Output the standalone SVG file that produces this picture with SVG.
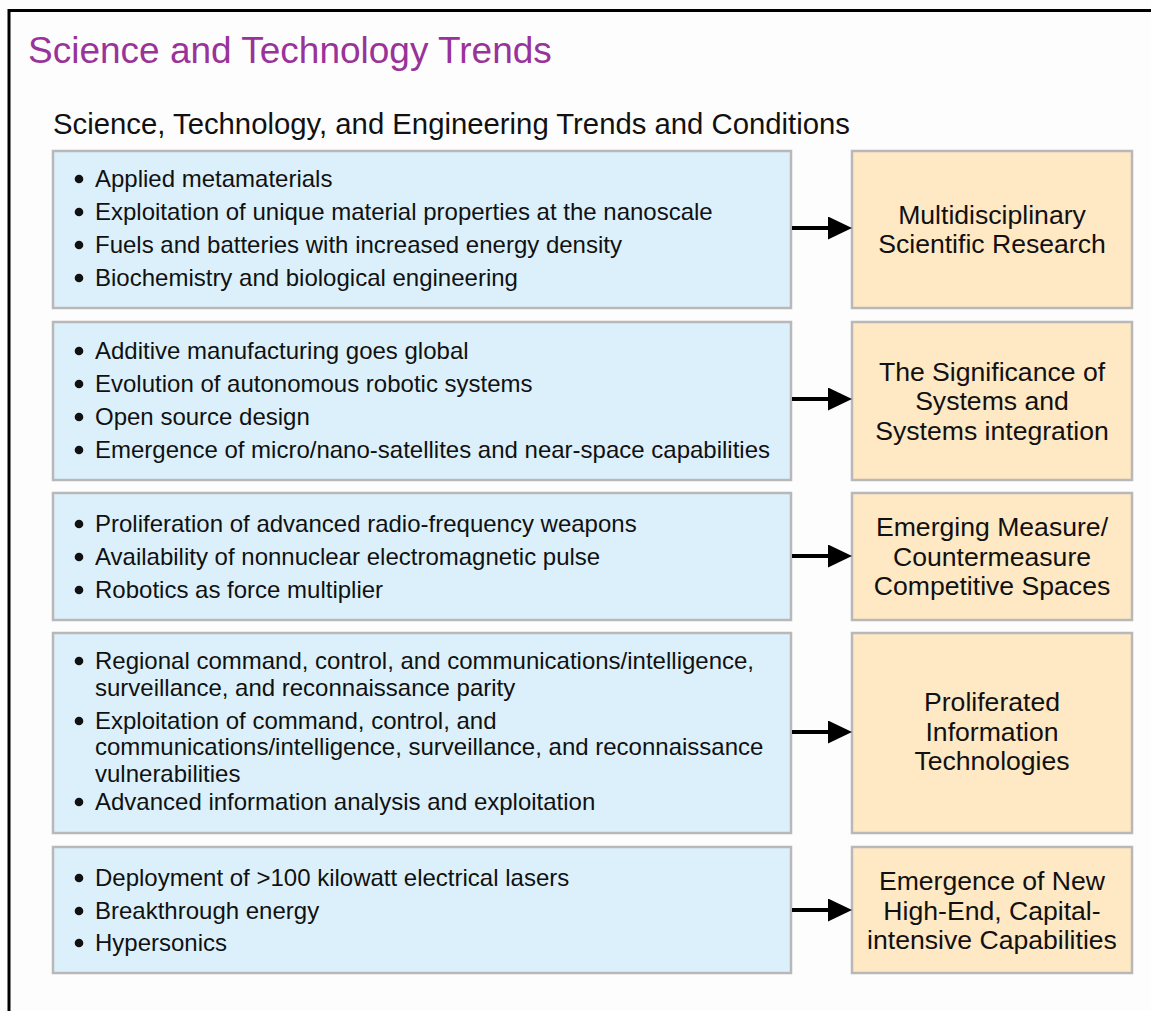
<svg xmlns="http://www.w3.org/2000/svg" width="1151" height="1011" viewBox="0 0 1151 1011">
<defs>
<style>
.t{font-family:"Liberation Sans",Arial,sans-serif;fill:#111}
.b{font-size:24px}
.c{font-size:26.6px;text-anchor:middle}
.blue{fill:#dcf0fb;stroke:#b8b8b8;stroke-width:2.5}
.org{fill:#ffe8c4;stroke:#b8b8b8;stroke-width:2.5}
.dot{fill:#111}
.con{stroke:#000;stroke-width:4;fill:none}
</style>
<marker id="ah" markerUnits="userSpaceOnUse" markerWidth="24" markerHeight="23" refX="2" refY="11.5" orient="auto">
<path d="M0,0 L24,11.5 L0,23 Z" fill="#000"/>
</marker>
</defs>
<rect x="0" y="0" width="1151" height="1011" fill="#fdfdfd"/>
<rect x="9" y="10.5" width="1300" height="1200" fill="none" stroke="#000" stroke-width="3"/>
<text class="t" x="28" y="63" style="font-size:37px;fill:#993399">Science and Technology Trends</text>
<text class="t" x="53" y="134" style="font-size:29.3px">Science, Technology, and Engineering Trends and Conditions</text>

<g id="trend1">
<rect class="blue" x="53" y="151" width="738" height="157"/>
<circle class="dot" cx="79" cy="179" r="4.3"/><text class="t b" x="95" y="187">Applied metamaterials</text>
<circle class="dot" cx="79" cy="212" r="4.3"/><text class="t b" x="95" y="220">Exploitation of unique material properties at the nanoscale</text>
<circle class="dot" cx="79" cy="245" r="4.3"/><text class="t b" x="95" y="253">Fuels and batteries with increased energy density</text>
<circle class="dot" cx="79" cy="278" r="4.3"/><text class="t b" x="95" y="286">Biochemistry and biological engineering</text>
</g>
<g id="out1">
<rect class="org" x="852" y="151" width="280" height="157"/>
<text class="t c" x="992" y="224">Multidisciplinary</text>
<text class="t c" x="992" y="252.5">Scientific Research</text>
</g>

<g id="trend2">
<rect class="blue" x="53" y="322" width="738" height="158"/>
<circle class="dot" cx="79" cy="351" r="4.3"/><text class="t b" x="95" y="359">Additive manufacturing goes global</text>
<circle class="dot" cx="79" cy="384" r="4.3"/><text class="t b" x="95" y="392">Evolution of autonomous robotic systems</text>
<circle class="dot" cx="79" cy="417" r="4.3"/><text class="t b" x="95" y="425">Open source design</text>
<circle class="dot" cx="79" cy="450" r="4.3"/><text class="t b" x="95" y="458">Emergence of micro/nano-satellites and near-space capabilities</text>
</g>
<g id="out2">
<rect class="org" x="852" y="322" width="280" height="158"/>
<text class="t c" x="992" y="380.5">The Significance of</text>
<text class="t c" x="992" y="410">Systems and</text>
<text class="t c" x="992" y="439.5">Systems integration</text>
</g>

<g id="trend3">
<rect class="blue" x="53" y="493" width="738" height="127"/>
<circle class="dot" cx="79" cy="524" r="4.3"/><text class="t b" x="95" y="532">Proliferation of advanced radio-frequency weapons</text>
<circle class="dot" cx="79" cy="557" r="4.3"/><text class="t b" x="95" y="565">Availability of nonnuclear electromagnetic pulse</text>
<circle class="dot" cx="79" cy="590" r="4.3"/><text class="t b" x="95" y="598">Robotics as force multiplier</text>
</g>
<g id="out3">
<rect class="org" x="852" y="493" width="280" height="127"/>
<text class="t c" x="992" y="536">Emerging Measure/</text>
<text class="t c" x="992" y="565.5">Countermeasure</text>
<text class="t c" x="992" y="595">Competitive Spaces</text>
</g>

<g id="trend4">
<rect class="blue" x="53" y="633" width="738" height="200"/>
<circle class="dot" cx="79" cy="661" r="4.3"/><text class="t b" x="95" y="669">Regional command, control, and communications/intelligence,</text>
<text class="t b" x="95" y="696">surveillance, and reconnaissance parity</text>
<circle class="dot" cx="79" cy="721" r="4.3"/><text class="t b" x="95" y="729">Exploitation of command, control, and</text>
<text class="t b" x="95" y="755">communications/intelligence, surveillance, and reconnaissance</text>
<text class="t b" x="95" y="782">vulnerabilities</text>
<circle class="dot" cx="79" cy="802" r="4.3"/><text class="t b" x="95" y="810">Advanced information analysis and exploitation</text>
</g>
<g id="out4">
<rect class="org" x="852" y="633" width="280" height="200"/>
<text class="t c" x="992" y="711">Proliferated</text>
<text class="t c" x="992" y="740.5">Information</text>
<text class="t c" x="992" y="770">Technologies</text>
</g>

<g id="trend5">
<rect class="blue" x="53" y="847" width="738" height="126"/>
<circle class="dot" cx="79" cy="878" r="4.3"/><text class="t b" x="95" y="886">Deployment of &gt;100 kilowatt electrical lasers</text>
<circle class="dot" cx="79" cy="911" r="4.3"/><text class="t b" x="95" y="919">Breakthrough energy</text>
<circle class="dot" cx="79" cy="943" r="4.3"/><text class="t b" x="95" y="951">Hypersonics</text>
</g>
<g id="out5">
<rect class="org" x="852" y="847" width="280" height="126"/>
<text class="t c" x="992" y="890">Emergence of New</text>
<text class="t c" x="992" y="919.5">High-End, Capital-</text>
<text class="t c" x="992" y="949">intensive Capabilities</text>
</g>

<g id="connectors">
<line class="con" x1="792" y1="228" x2="830" y2="228" marker-end="url(#ah)"/>
<line class="con" x1="792" y1="399" x2="830" y2="399" marker-end="url(#ah)"/>
<line class="con" x1="792" y1="556" x2="830" y2="556" marker-end="url(#ah)"/>
<line class="con" x1="792" y1="732" x2="830" y2="732" marker-end="url(#ah)"/>
<line class="con" x1="792" y1="910" x2="830" y2="910" marker-end="url(#ah)"/>
</g>
</svg>
